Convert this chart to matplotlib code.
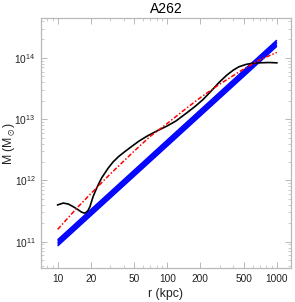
import numpy as np
import matplotlib
matplotlib.use('Agg')
import matplotlib.pyplot as plt
from matplotlib.ticker import FixedLocator, NullFormatter, LogLocator

plt.rcParams['font.family'] = ['Liberation Sans', 'DejaVu Sans']
plt.rcParams['mathtext.fontset'] = 'custom'
plt.rcParams['mathtext.rm'] = 'Liberation Sans'
plt.rcParams['mathtext.it'] = 'Liberation Sans:italic'
plt.rcParams['mathtext.default'] = 'regular'

# black curve (log10 M)
black_r = [10, 11.25, 12.5, 13.9, 15.4, 16.6, 17.7, 18.8, 19.7, 21.1, 22.7, 25.2,
           28.9, 32, 36, 41, 47, 55, 65, 77, 100, 120, 150, 180, 212, 255, 297, 350,
           400, 450, 525, 610, 690, 850, 1000]
black_logm = [11.60, 11.63, 11.615, 11.57, 11.52, 11.48, 11.465, 11.50, 11.57, 11.74,
              11.875, 12.04, 12.20, 12.30, 12.39, 12.47, 12.55, 12.64, 12.72, 12.79,
              12.89, 12.97, 13.10, 13.21, 13.32, 13.47, 13.60, 13.72,
              13.80, 13.855, 13.895, 13.915, 13.92, 13.925, 13.92]

# red dash-dot curve
red_r = [10, 15, 20, 30, 50, 70, 100, 150, 200, 300, 500, 700, 1000]
red_logm = [11.20, 11.55, 11.78, 12.10, 12.48, 12.72, 12.93, 13.18, 13.35, 13.57,
            13.82, 13.97, 14.09]

# blue band: several straight lines, log10 M at r = 10 and r = 1000
blue_r = [10, 1000]
blue_logm = [[10.93, 14.19], [10.955, 14.215], [10.98, 14.24],
             [11.005, 14.265], [11.03, 14.29]]

xticks = [10, 20, 50, 100, 200, 500, 1000]
yticks = [1e11, 1e12, 1e13, 1e14]

fig = plt.figure(figsize=(2.95, 3.02), dpi=100)
ax = fig.add_axes([0.139, 0.1126, 0.847, 0.8274])

for pair in blue_logm:
    ax.plot(blue_r, 10 ** np.array(pair), color='#0000ff', lw=1.1, solid_capstyle='butt')
ax.plot(black_r, 10 ** np.array(black_logm), color='black', lw=1.2)
ax.plot(red_r, 10 ** np.array(red_logm), color='#ff0000', lw=1.1,
        linestyle=(0, (3, 1.3, 1, 1.3)))

ax.set_xscale('log')
ax.set_yscale('log')
ax.set_xlim(7.05, 1343)
ax.set_ylim(10 ** 10.57, 10 ** 14.65)

ax.xaxis.set_major_locator(FixedLocator(xticks))
ax.set_xticklabels([str(t) for t in xticks])
ax.xaxis.set_minor_locator(LogLocator(base=10, subs=np.arange(2, 10)))
ax.xaxis.set_minor_formatter(NullFormatter())
ax.yaxis.set_major_locator(FixedLocator(yticks))
ax.set_yticklabels(['$10^{11}$', '$10^{12}$', '$10^{13}$', '$10^{14}$'])
ax.yaxis.set_minor_locator(LogLocator(base=10, subs=np.arange(2, 10)))
ax.yaxis.set_minor_formatter(NullFormatter())

for s in ax.spines.values():
    s.set_color('#b8b8b8')
    s.set_linewidth(0.9)
ax.tick_params(which='both', direction='in', color='#b8b8b8', labelcolor='#222222',
               labelsize=7.3, top=True, right=True)
ax.tick_params(which='major', length=4, width=0.7, pad=4)
ax.tick_params(which='minor', length=2, width=0.5)

ax.set_title('A262', fontsize=10, pad=4)
ax.set_xlabel('r (kpc)', fontsize=8.8, color='#222222', labelpad=3)
ax.set_ylabel(r'M ($M_\odot$)', fontsize=8.8, color='#222222')
ax.yaxis.set_label_coords(-0.095, 0.5)

fig.savefig('out.png', dpi=100)
